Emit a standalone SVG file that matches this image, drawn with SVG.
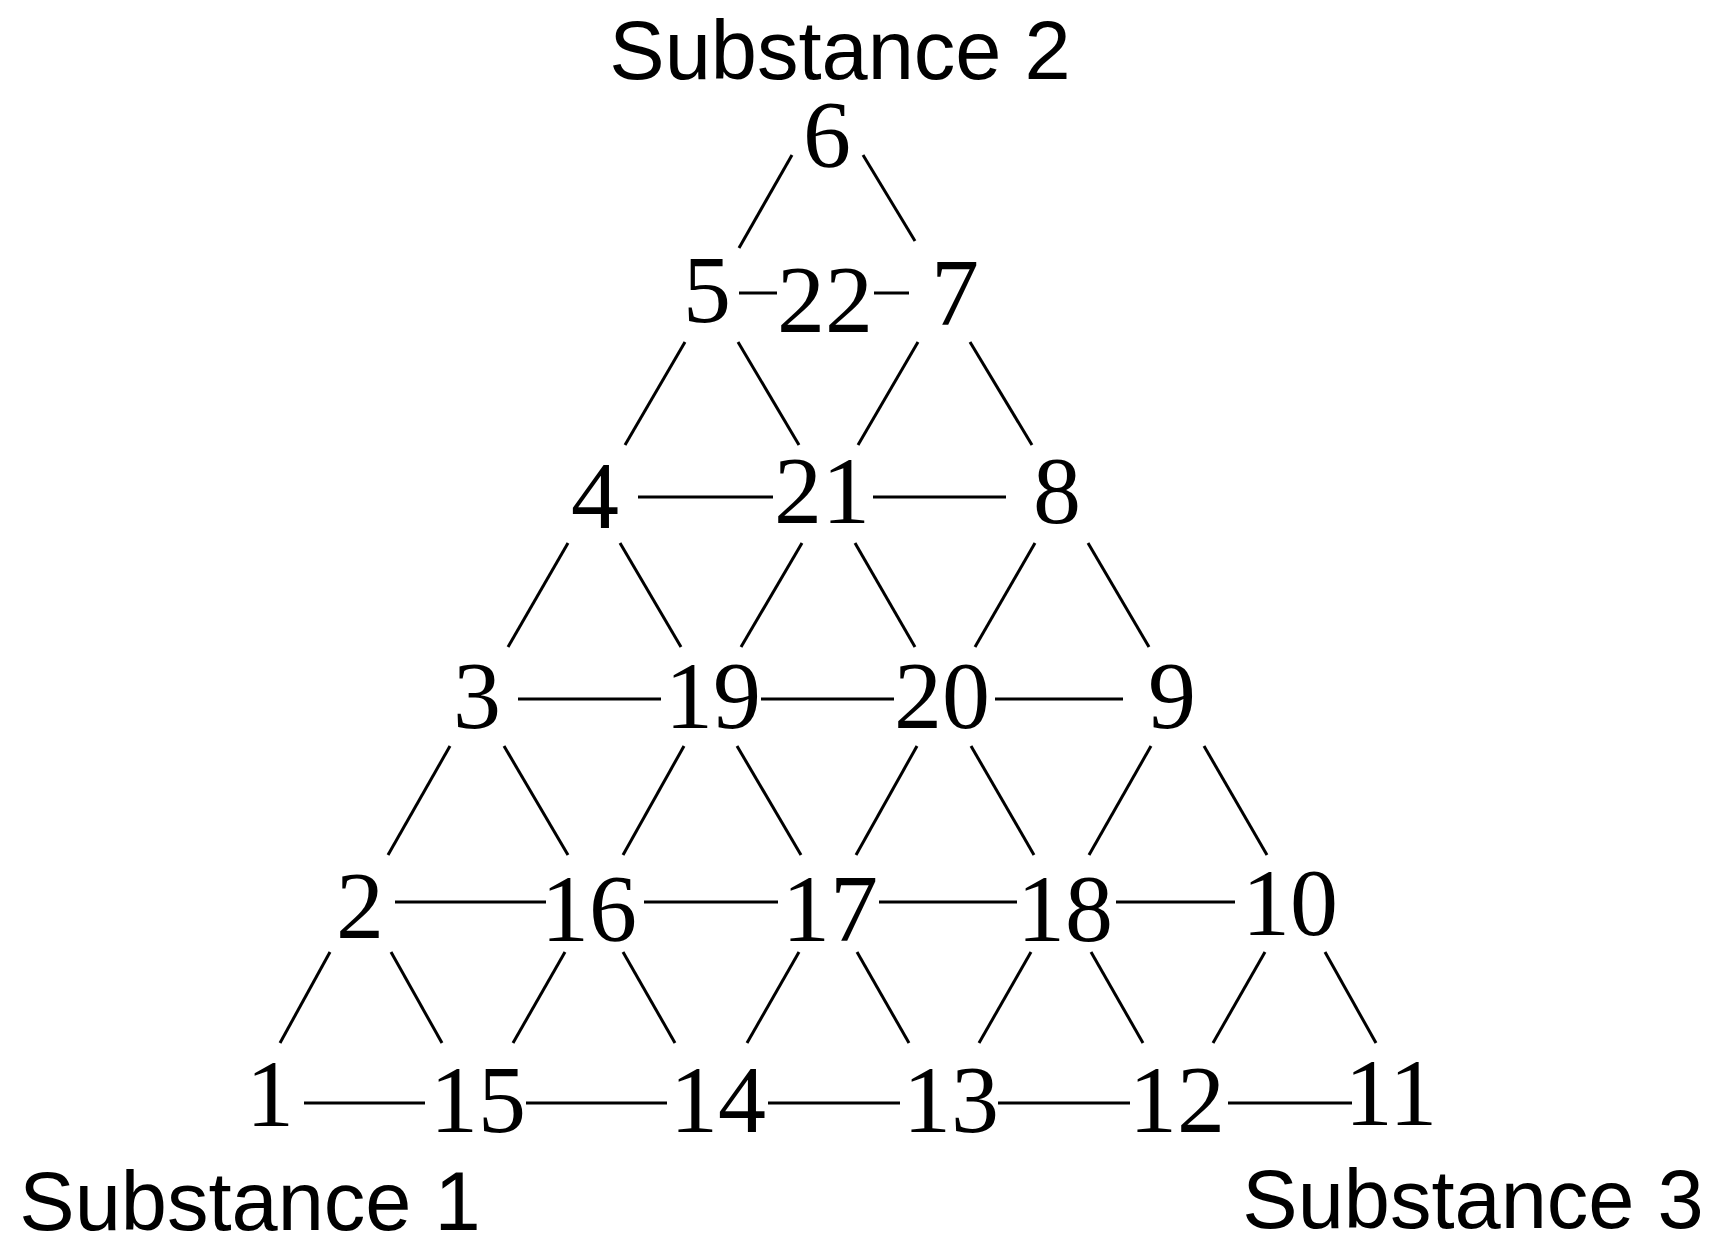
<svg xmlns="http://www.w3.org/2000/svg" width="1720" height="1244" viewBox="0 0 1720 1244">
<style>
.n{font-family:"Liberation Serif","Times New Roman",serif;font-size:96px;fill:#000;text-anchor:middle}
.s{font-family:"Liberation Sans",Arial,sans-serif;font-size:83px;fill:#000;text-anchor:middle}
.c line{stroke:#000;stroke-width:3;stroke-linecap:butt}
</style>
<rect width="1720" height="1244" fill="#fff"/>
<g id="labels">
<text class="s" x="840" y="79">Substance 2</text>
<text class="s" x="250" y="1230">Substance 1</text>
<text class="s" x="1473" y="1228">Substance 3</text>
</g>
<g class="c" id="connectors">
<line x1="792" y1="155" x2="739" y2="248"/>
<line x1="863" y1="155" x2="915" y2="241"/>
<line x1="739" y1="293" x2="777" y2="293"/>
<line x1="874" y1="293" x2="909" y2="293"/>
<line x1="685" y1="342" x2="625" y2="445"/>
<line x1="738" y1="342" x2="799" y2="445"/>
<line x1="918" y1="342" x2="858" y2="445"/>
<line x1="970" y1="342" x2="1032" y2="445"/>
<line x1="638" y1="497" x2="773" y2="497"/>
<line x1="873" y1="497" x2="1006" y2="497"/>
<line x1="568" y1="543" x2="508" y2="647"/>
<line x1="620" y1="543" x2="681" y2="647"/>
<line x1="802" y1="543" x2="741" y2="647"/>
<line x1="855" y1="543" x2="915" y2="647"/>
<line x1="1035" y1="543" x2="975" y2="647"/>
<line x1="1088" y1="543" x2="1149" y2="647"/>
<line x1="518" y1="699" x2="661" y2="699"/>
<line x1="761" y1="699" x2="894" y2="699"/>
<line x1="995" y1="699" x2="1123" y2="699"/>
<line x1="450" y1="746" x2="388" y2="855"/>
<line x1="504" y1="746" x2="568" y2="855"/>
<line x1="684" y1="746" x2="623" y2="855"/>
<line x1="737" y1="746" x2="801" y2="855"/>
<line x1="917" y1="746" x2="856" y2="855"/>
<line x1="971" y1="746" x2="1034" y2="855"/>
<line x1="1151" y1="746" x2="1089" y2="855"/>
<line x1="1204" y1="746" x2="1267" y2="855"/>
<line x1="395" y1="902" x2="546" y2="902"/>
<line x1="644" y1="902" x2="778" y2="902"/>
<line x1="879" y1="902" x2="1017" y2="902"/>
<line x1="1116" y1="902" x2="1235" y2="902"/>
<line x1="330" y1="952" x2="280" y2="1043"/>
<line x1="391" y1="952" x2="442" y2="1043"/>
<line x1="565" y1="952" x2="513" y2="1043"/>
<line x1="623" y1="952" x2="675" y2="1043"/>
<line x1="799" y1="952" x2="747" y2="1043"/>
<line x1="857" y1="952" x2="909" y2="1043"/>
<line x1="1031" y1="952" x2="979" y2="1043"/>
<line x1="1091" y1="952" x2="1143" y2="1043"/>
<line x1="1265" y1="952" x2="1213" y2="1043"/>
<line x1="1325" y1="952" x2="1376" y2="1043"/>
<line x1="304" y1="1103" x2="425" y2="1103"/>
<line x1="526" y1="1103" x2="667" y2="1103"/>
<line x1="768" y1="1103" x2="900" y2="1103"/>
<line x1="998" y1="1103" x2="1130" y2="1103"/>
<line x1="1228" y1="1103" x2="1352" y2="1103"/>
</g>
<g id="n6"><text class="n" x="827" y="167">6</text></g>
<g id="n5"><text class="n" x="707" y="322">5</text></g>
<g id="n22"><text class="n" x="825" y="332">22</text></g>
<g id="n7"><text class="n" x="955" y="325">7</text></g>
<g id="n4"><text class="n" x="595" y="528">4</text></g>
<g id="n21"><text class="n" x="822" y="523">21</text></g>
<g id="n8"><text class="n" x="1057" y="523">8</text></g>
<g id="n3"><text class="n" x="477" y="728">3</text></g>
<g id="n19"><text class="n" x="713" y="728">19</text></g>
<g id="n20"><text class="n" x="942" y="728">20</text></g>
<g id="n9"><text class="n" x="1172" y="728">9</text></g>
<g id="n2"><text class="n" x="360" y="938">2</text></g>
<g id="n16"><text class="n" x="589" y="941">16</text></g>
<g id="n17"><text class="n" x="830" y="941">17</text></g>
<g id="n18"><text class="n" x="1065" y="941">18</text></g>
<g id="n10"><text class="n" x="1290" y="935">10</text></g>
<g id="n1"><text class="n" x="270" y="1126">1</text></g>
<g id="n15"><text class="n" x="478" y="1132">15</text></g>
<g id="n14"><text class="n" x="718" y="1132">14</text></g>
<g id="n13"><text class="n" x="951" y="1132">13</text></g>
<g id="n12"><text class="n" x="1177" y="1132">12</text></g>
<g id="n11"><text class="n" x="1391" y="1125">11</text></g>
</svg>
